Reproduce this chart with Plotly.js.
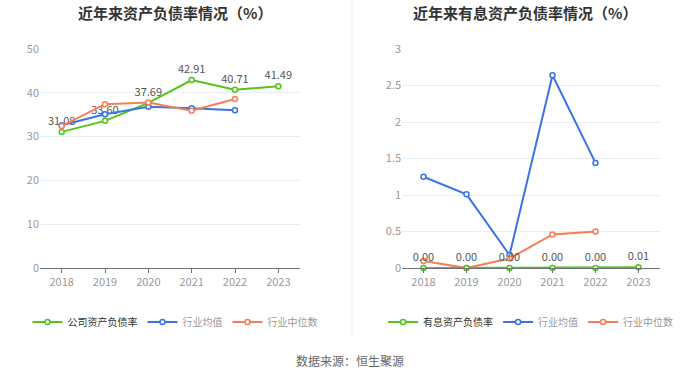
<!DOCTYPE html>
<html>
<head>
<meta charset="utf-8">
<script src="https://cdn.plot.ly/plotly-3.0.1.min.js"></script>
<style>html,body{margin:0;padding:0;background:#fff;}#chart{width:700px;height:377px;}</style>
</head>
<body>
<div id="chart"></div>
<script>
const years = ['2018','2019','2020','2021','2022','2023'];
const companyDebt = [31.08, 33.60, 37.69, 42.91, 40.71, 41.49];
const industryAvgDebt = [32.6, 35.1, 36.8, 36.5, 36.0, null];
const industryMedDebt = [32.4, 37.4, 37.8, 35.9, 38.6, null];
const companyIntDebt = [0.00, 0.00, 0.00, 0.00, 0.00, 0.01];
const industryAvgInt = [1.25, 1.01, 0.18, 2.64, 1.44, null];
const industryMedInt = [0.095, 0.0, 0.13, 0.46, 0.50, null];

const FONT = '"Noto Sans CJK SC", "Noto Sans", sans-serif';
const GREEN = '#52c41a', BLUE = '#3b73e6', ORANGE = '#f47f55';

function series(x, y, color, name, xa, ya, leg, showText) {
  return {
    x: x, y: y, name: name, xaxis: xa, yaxis: ya, legend: leg,
    type: 'scatter', mode: showText ? 'lines+markers+text' : 'lines+markers',
    line: {color: color, width: 2},
    marker: {symbol: 'circle', size: 5, color: '#fff', line: {color: color, width: 1.5}},
    texttemplate: showText ? '%{y:.2f}' : undefined,
    textposition: 'top center',
    textfont: {family: FONT, size: 11, color: '#555'},
    cliponaxis: false,
    hoverinfo: 'skip'
  };
}

const data = [
  series(years, companyDebt, GREEN, '<span style="color:#333">公司资产负债率</span>', 'x', 'y', 'legend', true),
  series(years, industryAvgDebt, BLUE, '<span style="color:#999">行业均值</span>', 'x', 'y', 'legend', false),
  series(years, industryMedDebt, ORANGE, '<span style="color:#999">行业中位数</span>', 'x', 'y', 'legend', false),
  series(years, industryAvgInt, BLUE, '<span style="color:#999">行业均值</span>', 'x2', 'y2', 'legend2', false),
  series(years, industryMedInt, ORANGE, '<span style="color:#999">行业中位数</span>', 'x2', 'y2', 'legend2', false),
  series(years, companyIntDebt, GREEN, '<span style="color:#333">有息资产负债率</span>', 'x2', 'y2', 'legend2', true)
];
data[5].legendrank = 1; data[3].legendrank = 2; data[4].legendrank = 3;

const xBase = {
  type: 'category', range: [-0.5, 5.5], showgrid: false, zeroline: false,
  showline: true, linecolor: '#6e7079', linewidth: 1,
  ticks: 'outside', ticklen: 4, tickcolor: '#6e7079',
  tickfont: {family: FONT, size: 11, color: '#999'}, fixedrange: true
};
const yBase = {
  showgrid: true, gridcolor: '#e9edf4', gridwidth: 1, zeroline: false, showline: false,
  tickfont: {family: FONT, size: 11, color: '#999'}, ticks: '', ticklen: 0, fixedrange: true
};

const layout = {
  width: 700, height: 377,
  margin: {l: 0, r: 0, t: 0, b: 0},
  paper_bgcolor: '#fff', plot_bgcolor: '#fff',
  font: {family: FONT},
  xaxis: Object.assign({}, xBase, {domain: [40/700, 300/700], anchor: 'y'}),
  yaxis: Object.assign({}, yBase, {domain: [0.289, 0.870], range: [0, 50], dtick: 10, anchor: 'x'}),
  xaxis2: Object.assign({}, xBase, {domain: [402/700, 660/700], anchor: 'y2'}),
  yaxis2: Object.assign({}, yBase, {domain: [0.289, 0.870], range: [0, 3], dtick: 0.5, anchor: 'x2'}),
  legend: {orientation: 'h', x: 0.25, xanchor: 'center', y: 1 - 322/377, yanchor: 'middle',
    font: {family: FONT, size: 10, color: '#999'}, itemwidth: 30, bgcolor: 'rgba(0,0,0,0)'},
  legend2: {orientation: 'h', x: 0.758, xanchor: 'center', y: 1 - 322/377, yanchor: 'middle',
    font: {family: FONT, size: 10, color: '#999'}, itemwidth: 30, bgcolor: 'rgba(0,0,0,0)', traceorder: 'normal'},
  shapes: [{type: 'line', xref: 'paper', yref: 'paper', x0: 352/700, x1: 352/700, y0: 1, y1: 1 - 335/377,
    line: {color: '#eeeeee', width: 1}}],
  annotations: [
    {text: '<b>近年来资产负债率情况（%）</b>', xref: 'paper', yref: 'paper', x: 175/700, y: 1 - 13/377,
     xanchor: 'center', yanchor: 'middle', showarrow: false, font: {family: FONT, size: 15, color: '#333'}},
    {text: '<b>近年来有息资产负债率情况（%）</b>', xref: 'paper', yref: 'paper', x: 525/700, y: 1 - 13/377,
     xanchor: 'center', yanchor: 'middle', showarrow: false, font: {family: FONT, size: 15, color: '#333'}},
    {text: '数据来源：恒生聚源', xref: 'paper', yref: 'paper', x: 0.5, y: 1 - 360/377,
     xanchor: 'center', yanchor: 'middle', showarrow: false, font: {family: FONT, size: 12, color: '#666'}}
  ]
};

Plotly.newPlot('chart', data, layout, {displayModeBar: false, staticPlot: true});
</script>
</body>
</html>
